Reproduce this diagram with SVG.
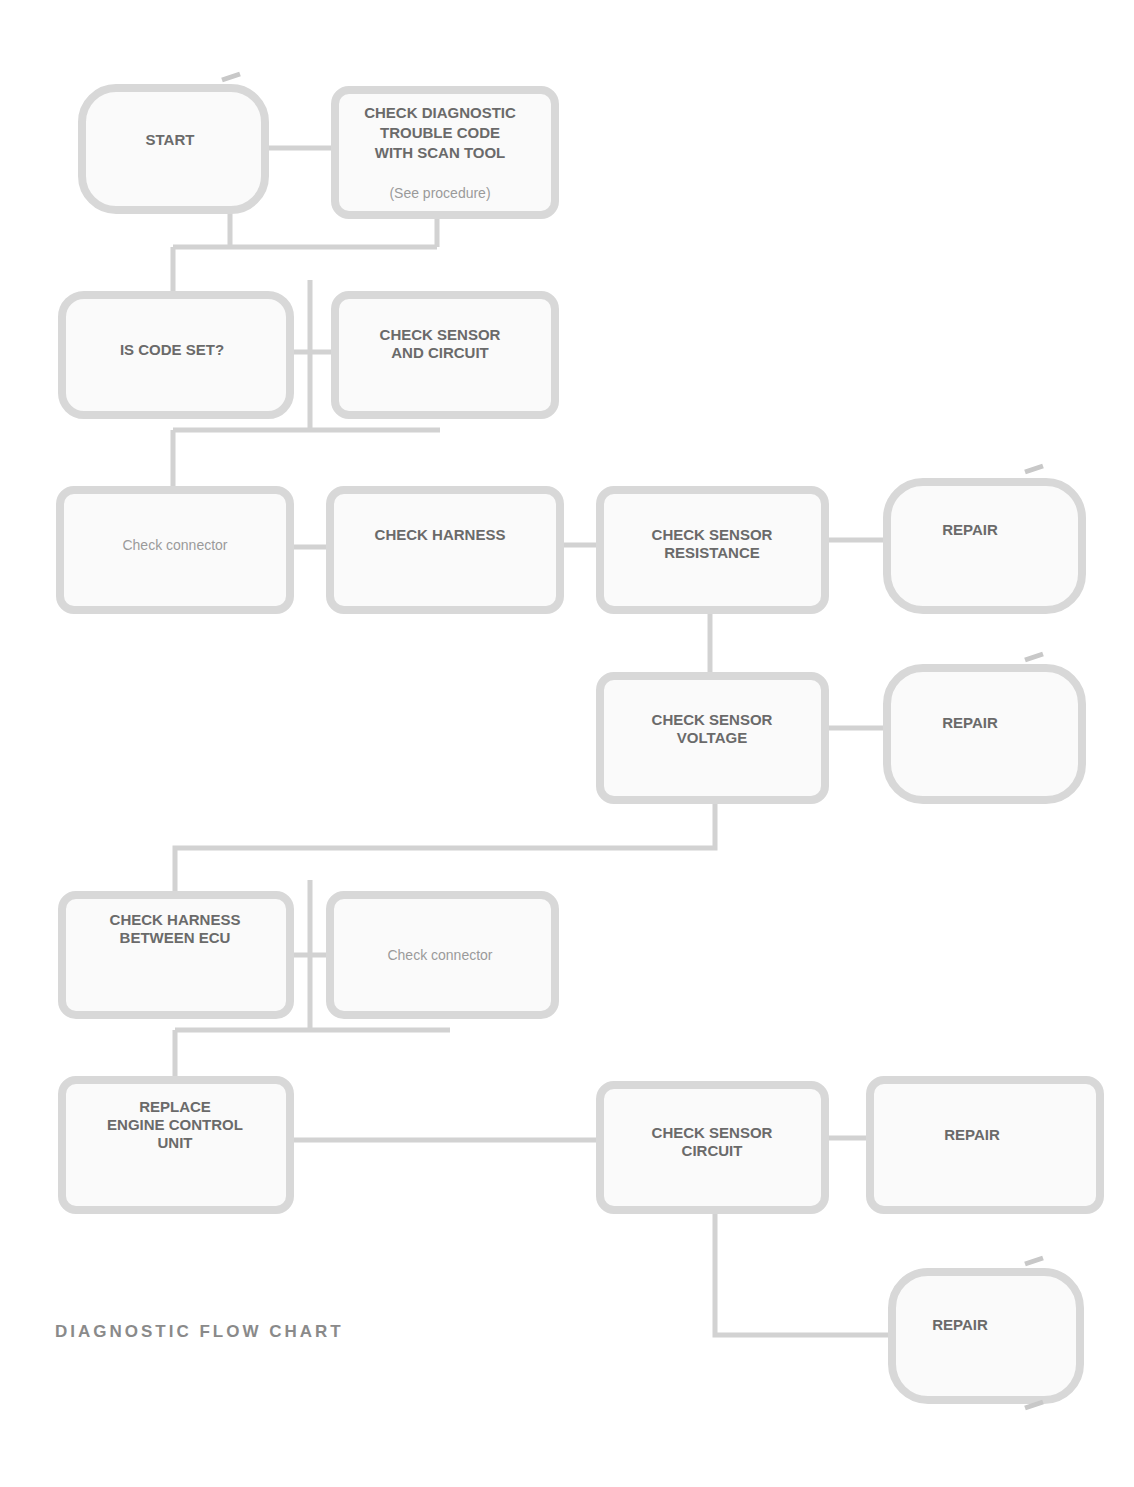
<svg xmlns="http://www.w3.org/2000/svg" width="1134" height="1487" viewBox="0 0 1134 1487">
<style>
.box{fill:#fafafa;stroke:#d8d8d8;stroke-width:8}
.term{fill:#fafafa;stroke:#d8d8d8;stroke-width:8}
.tick{fill:none;stroke:#c8c8c8;stroke-width:5}
.ln{fill:none;stroke:#d2d2d2;stroke-width:5}
.t{font-family:"Liberation Sans",Arial,sans-serif;font-size:15px;font-weight:bold;fill:#6a6a6a;text-anchor:middle}
.tl{font-family:"Liberation Sans",Arial,sans-serif;font-size:14px;fill:#9a9a9a;text-anchor:middle}
.cap{font-family:"Liberation Sans",Arial,sans-serif;font-size:17px;font-weight:bold;fill:#8a8a8a;letter-spacing:3px}
</style>
<rect width="1134" height="1487" fill="#ffffff"/>

<g id="connectors">
<path class="ln" d="M265,148 H335"/>
<path class="ln" d="M230,210 V247 M437,215 V247 M173,247 H437 M173,247 V293"/>
<path class="ln" d="M290,352 H335"/>
<path class="ln" d="M310,280 V430"/>
<path class="ln" d="M173,430 H440 M173,430 V488"/>
<path class="ln" d="M290,547 H330"/>
<path class="ln" d="M560,545 H600"/>
<path class="ln" d="M825,540 H885"/>
<path class="ln" d="M710,610 V675"/>
<path class="ln" d="M825,728 H885"/>
<path class="ln" d="M715,800 V848 H175 V893"/>
<path class="ln" d="M290,955 H330"/>
<path class="ln" d="M310,880 V1030"/>
<path class="ln" d="M175,1030 H450 M175,1030 V1078"/>
<path class="ln" d="M290,1140 H600"/>
<path class="ln" d="M825,1138 H870"/>
<path class="ln" d="M715,1210 V1335 H890"/>
</g>

<g id="nodeA">
<rect class="term" x="82" y="88" width="183" height="122" rx="34"/>
<path class="tick" d="M222,80 L240,74"/>
<text class="t" x="170" y="145">START</text>
</g>
<g id="nodeB">
<rect class="box" x="335" y="90" width="220" height="125" rx="14"/>
<text class="t" x="440" y="118">CHECK DIAGNOSTIC</text>
<text class="t" x="440" y="138">TROUBLE CODE</text>
<text class="t" x="440" y="158">WITH SCAN TOOL</text>
<text class="tl" x="440" y="198">(See procedure)</text>
</g>

<g id="nodeC">
<rect class="box" x="62" y="295" width="228" height="120" rx="22"/>
<text class="t" x="172" y="355">IS CODE SET?</text>
</g>
<g id="nodeD">
<rect class="box" x="335" y="295" width="220" height="120" rx="14"/>
<text class="t" x="440" y="340">CHECK SENSOR</text>
<text class="t" x="440" y="358">AND CIRCUIT</text>
</g>

<g id="nodeE">
<rect class="box" x="60" y="490" width="230" height="120" rx="14"/>
<text class="tl" x="175" y="550">Check connector</text>
</g>
<g id="nodeF">
<rect class="box" x="330" y="490" width="230" height="120" rx="14"/>
<text class="t" x="440" y="540">CHECK HARNESS</text>
</g>
<g id="nodeG">
<rect class="box" x="600" y="490" width="225" height="120" rx="14"/>
<text class="t" x="712" y="540">CHECK SENSOR</text>
<text class="t" x="712" y="558">RESISTANCE</text>
</g>
<g id="nodeH">
<rect class="term" x="887" y="482" width="195" height="128" rx="36"/>
<path class="tick" d="M1025,472 L1043,466"/>
<text class="t" x="970" y="535">REPAIR</text>
</g>

<g id="nodeI">
<rect class="box" x="600" y="676" width="225" height="124" rx="14"/>
<text class="t" x="712" y="725">CHECK SENSOR</text>
<text class="t" x="712" y="743">VOLTAGE</text>
</g>
<g id="nodeJ">
<rect class="term" x="887" y="668" width="195" height="132" rx="36"/>
<path class="tick" d="M1025,660 L1043,654"/>
<text class="t" x="970" y="728">REPAIR</text>
</g>

<g id="nodeK">
<rect class="box" x="62" y="895" width="228" height="120" rx="14"/>
<text class="t" x="175" y="925">CHECK HARNESS</text>
<text class="t" x="175" y="943">BETWEEN ECU</text>
</g>
<g id="nodeL">
<rect class="box" x="330" y="895" width="225" height="120" rx="14"/>
<text class="tl" x="440" y="960">Check connector</text>
</g>

<g id="nodeM">
<rect class="box" x="62" y="1080" width="228" height="130" rx="14"/>
<text class="t" x="175" y="1112">REPLACE</text>
<text class="t" x="175" y="1130">ENGINE CONTROL</text>
<text class="t" x="175" y="1148">UNIT</text>
</g>
<g id="nodeN">
<rect class="box" x="600" y="1085" width="225" height="125" rx="14"/>
<text class="t" x="712" y="1138">CHECK SENSOR</text>
<text class="t" x="712" y="1156">CIRCUIT</text>
</g>
<g id="nodeO">
<rect class="box" x="870" y="1080" width="230" height="130" rx="14"/>
<text class="t" x="972" y="1140">REPAIR</text>
</g>

<g id="nodeP">
<rect class="term" x="892" y="1272" width="188" height="128" rx="36"/>
<path class="tick" d="M1025,1264 L1043,1258"/>
<path class="tick" d="M1025,1408 L1043,1402"/>
<text class="t" x="960" y="1330">REPAIR</text>
</g>

<text class="cap" x="55" y="1337">DIAGNOSTIC FLOW CHART</text>
</svg>
